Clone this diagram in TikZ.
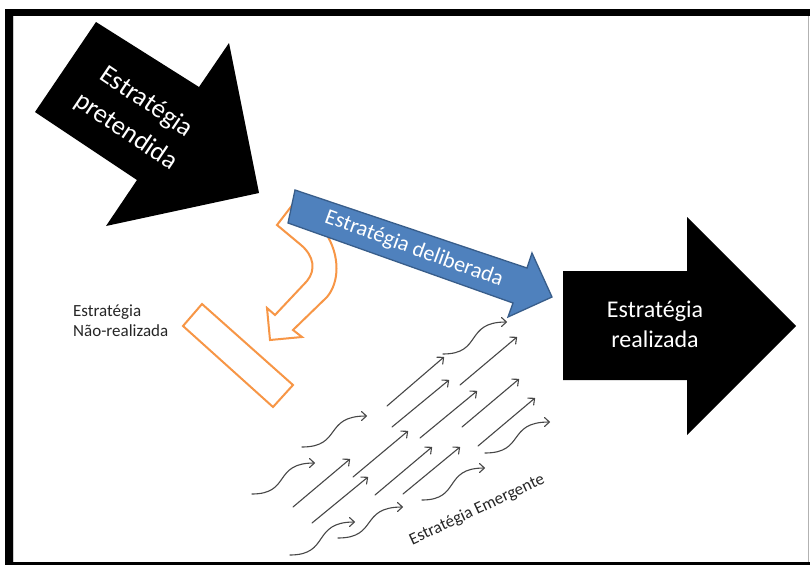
\documentclass[tikz,border=0pt]{standalone}
\usepackage{fontspec}
\setmainfont{Carlito}
\usetikzlibrary{arrows.meta}
\definecolor{officeblue}{HTML}{4F81BD}
\definecolor{officeblueline}{HTML}{385D8A}
\definecolor{officeorange}{HTML}{F79646}
\begin{document}
\begin{tikzpicture}[x=1pt,y=-1pt,
  bigarrow/.style={fill=black},
  bluearrow/.style={fill=officeblue, draw=officeblueline, line width=1.3pt, line join=miter},
  orangeoutline/.style={draw=officeorange, line width=2pt, fill=white, line join=miter},
  emerg/.style={draw=black!72, line width=1.1pt, line cap=round,
    -{Straight Barb[length=5pt,width=9pt,round]}},
  whitelabel/.style={text=white, align=center, inner sep=0pt},
  darklabel/.style={text=black!85, inner sep=0pt}]
\useasboundingbox (0,0) rectangle (810,565);
\fill[white] (0,0) rectangle (810,565);

% frame
\fill[black] (5,9) rectangle (810,16);
\fill[black] (5,9) rectangle (13,565);
\fill[black] (5,562) rectangle (810,565);
\draw[black!30, line width=0.8pt] (808.6,16) -- (808.6,562);
\draw[black!20, line width=0.8pt] (13.6,16) -- (13.6,562);

% intended strategy
\fill[bigarrow] (96,22) -- (199,87) -- (229,43) -- (259,193) -- (106,226)
  -- (137,180) -- (35,112) -- cycle;
\node[whitelabel, rotate=-34, font=\fontsize{26.5}{36}\selectfont] (pret) at (136,117)
  {Estratégia\\pretendida};

% unrealized strategy: bent arrow and bar
\draw[orangeoutline] (297,199) -- (277,225) -- (301,245)
  .. controls (314,256) and (316,270) .. (307,281)
  -- (275,315) -- (267,308) -- (270,340) -- (302,337) -- (293,330) -- (327,297)
  .. controls (339,283) and (341,256) .. (325,232) -- cycle;
\draw[orangeoutline] (202,304) -- (183,326) -- (273,407) -- (293,385) -- cycle;
\node[darklabel, align=left, anchor=west, font=\fontsize{17}{20}\selectfont] (nreal) at (73,321)
  {Estratégia\\Não-realizada};

% deliberate strategy
\draw[bluearrow] (295,190) -- (527,268) -- (532,253) -- (552,297) -- (508,317)
  -- (513,303) -- (288,223) -- cycle;
\node[whitelabel, rotate=-20, font=\fontsize{22}{26}\selectfont] (delib) at (414,249)
  {Estratégia deliberada};

% realized strategy
\fill[bigarrow] (563,271) -- (687,271) -- (687,217) -- (796,326) -- (687,435)
  -- (687,380) -- (563,380) -- cycle;
\node[whitelabel, font=\fontsize{24}{30}\selectfont] (real) at (655,324)
  {Estratégia\\realizada};

% emergent strategy: straight streams
\foreach \sx/\sy/\ex/\ey in {
  387/406/444/357, 460/385/517/337, 392/427/449/380, 420/438/477/391,
  462/427/519/379, 478/446/535/398, 353/477/408/431, 293/507/350/459,
  312/523/368/477, 375/495/432/447, 403/494/460/447}
  \draw[emerg] (\sx,\sy) -- (\ex,\ey);

% emergent strategy: wavy streams
\foreach \sx/\sy/\ex/\ey in {
  443/354/507/322, 302/447/367/416, 252/494/315/463, 485/453/550/422,
  422/500/485/468, 290/555/355/522, 338/538/403/507}
  \draw[emerg] (\sx,\sy) .. controls ({\sx+0.62*(\ex-\sx)},\sy)
    and ({\sx+0.33*(\ex-\sx)},\ey) .. (\ex,\ey);

\node[darklabel, rotate=25, font=\fontsize{17}{20}\selectfont] (emer) at (477,510)
  {Estratégia Emergente};
\end{tikzpicture}
\end{document}
